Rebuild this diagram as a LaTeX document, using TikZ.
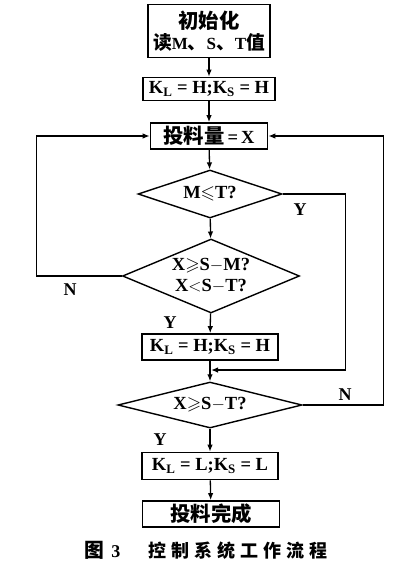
\documentclass[tikz,border=0pt]{standalone}
\usepackage{amssymb}
\usepackage{fontspec}
\setmainfont{Liberation Serif}
\newfontfamily\cjk[Scale=1.1]{Noto Sans CJK SC}
\newfontfamily\cjkcap[LetterSpace=28]{Noto Sans CJK SC}
\newcommand\zh[1]{{\cjk #1}}
\usetikzlibrary{arrows.meta,shapes.geometric}

\begin{document}
\begin{tikzpicture}[
        x=1pt, y=-1pt,
        font=\fontsize{18.5}{21}\selectfont\bfseries,
        line width=1.3pt,
        >={Latex[length=7pt,width=5.5pt]},
        proc/.style={rectangle, draw, line width=1.6pt,
                     inner sep=1pt, align=center},
        cond/.style={diamond, draw, line width=1.4pt,
                     inner sep=0pt, align=center},
        lab/.style={font=\fontsize{18}{20}\selectfont\bfseries},
      ]
        \useasboundingbox (0,0) rectangle (416,568);

        \node[proc, minimum width=122, minimum height=53] (init) at (209,31)
          {\zh{初始化}\\ {\fontsize{17}{20}\selectfont\zh{读}M\zh{、}S\zh{、}T\zh{值}}};
        \node[proc, minimum width=132, minimum height=23] (setH) at (209,89)
          {K\textsubscript{L} = H;K\textsubscript{S} = H};
        \node[proc, minimum width=117, minimum height=26] (feed) at (209,136)
          {\zh{投料量}\,=\,X};
        \node[cond, aspect=3, minimum width=144, minimum height=48] (chkMT) at (210,194)
          {M$\leqslant$T?};
        \node[cond, aspect=2.4, minimum width=177, minimum height=74] (chkX) at (211,276)
          {X$\geqslant$S$-$M?\\X$<$S$-$T?};
        \node[proc, minimum width=136, minimum height=26] (setH2) at (210,347)
          {K\textsubscript{L} = H;K\textsubscript{S} = H};
        \coordinate (mergeA) at (211,370);
        \node[cond, aspect=4, minimum width=184, minimum height=46] (chkST) at (210,405)
          {X$\geqslant$S$-$T?};
        \node[proc, minimum width=136, minimum height=27] (setL) at (210,466)
          {K\textsubscript{L} = L;K\textsubscript{S} = L};
        \node[proc, minimum width=137, minimum height=26] (done) at (211,514)
          {\zh{投料完成}};

        % main line
        \draw[->] (init) -- (setH);
        \draw[->] (setH) -- (feed);
        \draw[->] (feed) -- (chkMT);
        \draw[->] (chkMT) -- (chkX);
        \draw[->] (chkX) -- (setH2);
        \draw[->] (setH2) -- (chkST);
        \draw[->] (chkST) -- (setL);
        \draw[->] (setL) -- (done);

        % loops
        \draw[->] (chkMT.east) -- ++(63,0) |- (mergeA);
        \draw[->] (chkX.west) -- ++(-85,0) |- (feed.west);
        \draw[->] (chkST.east) -- ++(81,0) |- (feed.east);

        \node[lab] (y1) at (300,210) {Y};
        \node[lab] (n1) at (70,290) {N};
        \node[lab] (y2) at (170,323) {Y};
        \node[lab] (n2) at (345,395) {N};
        \node[lab] (y3) at (160,440) {Y};

        \node[font=\fontsize{18}{20}\selectfont] (cap) at (206,550)
          {{\cjk\bfseries 图}\hspace{7pt}{\bfseries 3}\hspace{28pt}{\cjkcap\bfseries 控制系统工作流程}};
      \end{tikzpicture}
\end{document}
